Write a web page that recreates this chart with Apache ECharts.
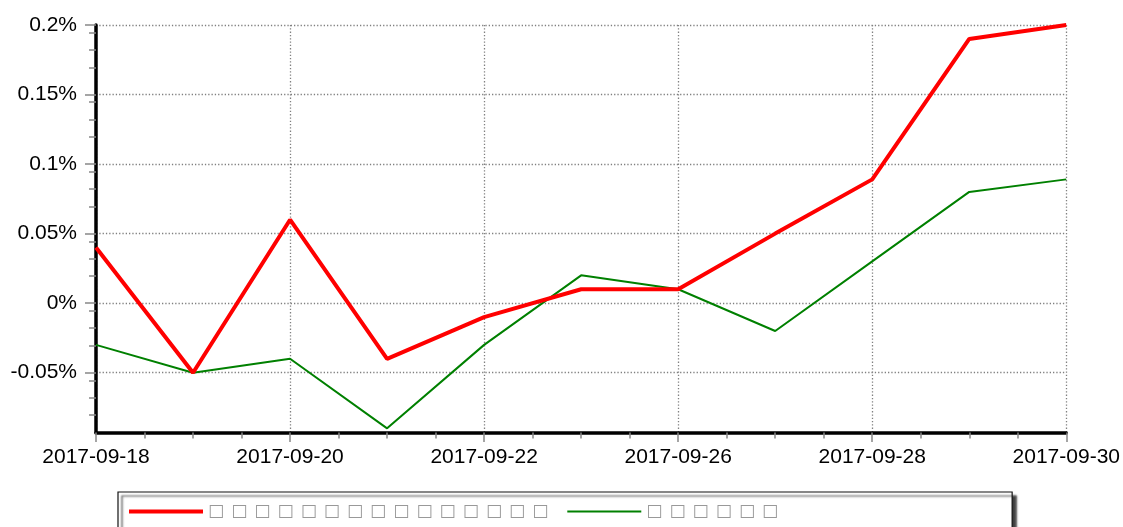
<!DOCTYPE html>
<html>
<head>
<meta charset="utf-8">
<title>chart</title>
<script src="https://cdn.jsdelivr.net/npm/echarts@6/dist/echarts.min.js"></script>
<style>
  html, body { margin: 0; padding: 0; background: #fff; }
  #chart { width: 1123px; height: 527px; }
</style>
</head>
<body>
<div id="chart"></div>
<script>
// categories (trading days)
const dates = ['2017-09-18', '2017-09-19', '2017-09-20', '2017-09-21', '2017-09-22',
  '2017-09-25', '2017-09-26', '2017-09-27', '2017-09-28', '2017-09-29', '2017-09-30']

// series values, in percent
const redValues = [0.04, -0.05, 0.06, -0.04, -0.01, 0.01, 0.01, 0.05, 0.089, 0.19, 0.2]
const greenValues = [-0.03, -0.05, -0.04, -0.09, -0.03, 0.02, 0.01, -0.02, 0.03, 0.08, 0.089]

// legend names (glyphs not rendered in the source, shown as boxes)
const redName = '□ \u200A□ \u200A□ \u200A□ \u200A□ \u200A□ \u200A□ \u200A□ \u200A□ \u200A□ \u200A□ \u200A□ \u200A□ \u200A□ \u200A□'
const greenName = '□ \u200A□ \u200A□ \u200A□ \u200A□ \u200A□'

// y tick labels
const yTicks = [-0.05, 0, 0.05, 0.1, 0.15, 0.2]

const toPairs = (vals) => vals.map((v, i) => [i, v])

const chart = echarts.init(document.getElementById('chart'))

const labelFont = {
  fontFamily: 'Liberation Sans',
  fontSize: 21,
  color: '#000'
}

// dotted grid
const gridLine = { color: '#808080', width: 1.3, type: [1.3, 2] }

chart.setOption({
  backgroundColor: '#fff',
  animation: false,
  grid: {
    left: 96,
    right: 56,
    top: 25,
    bottom: 94.5,
    containLabel: false
  },
  legend: {
    left: 118,
    top: 492,
    padding: [11, 234, 10, 11],
    itemWidth: 74,
    itemHeight: 14,
    itemGap: 19,
    backgroundColor: '#fff',
    borderColor: '#111',
    borderWidth: 1.2,
    shadowColor: 'rgba(0,0,0,0.75)',
    shadowOffsetX: 4,
    shadowOffsetY: 4,
    shadowBlur: 2,
    textStyle: {
      fontFamily: 'DejaVu Sans',
      fontSize: 17,
      color: '#999'
    },
    data: [
      { name: redName, icon: 'path://M0,0H74V4H0Z' },
      { name: greenName, icon: 'path://M0,0H74V2H0Z' }
    ]
  },
  xAxis: {
    type: 'value',
    min: 0,
    max: dates.length - 1,
    interval: 2,
    axisLine: {
      onZero: false,
      lineStyle: { color: '#000', width: 3.5 }
    },
    axisTick: {
      length: 9.5,
      lineStyle: { color: '#888', width: 1.5 }
    },
    minorTick: {
      show: true,
      splitNumber: 4,
      length: 6,
      lineStyle: { color: '#888', width: 1.5 }
    },
    axisLabel: {
      ...labelFont,
      margin: 14,
      formatter: (v) => dates[v] || ''
    },
    splitLine: {
      show: true,
      lineStyle: gridLine
    }
  },
  yAxis: {
    type: 'value',
    min: -0.093,
    max: 0.2,
    interval: 0.05,
    offset: 3,
    axisLine: {
      show: true,
      lineStyle: { color: '#000', width: 3.5 }
    },
    axisTick: {
      show: true,
      length: 11,
      customValues: yTicks,
      lineStyle: { color: '#888', width: 1.5 }
    },
    minorTick: {
      show: true,
      splitNumber: 4,
      length: 7,
      lineStyle: { color: '#888', width: 1.5 }
    },
    axisLabel: {
      ...labelFont,
      margin: 16,
      customValues: yTicks,
      formatter: (v) => parseFloat(Number(v).toFixed(4)) + '%'
    },
    splitLine: {
      show: true,
      lineStyle: gridLine
    }
  },
  series: [{
    name: redName,
    type: 'line',
    symbol: 'none',
    lineStyle: { color: '#ff0000', width: 4 },
    itemStyle: { color: '#ff0000' },
    data: toPairs(redValues),
    z: 3
  }, {
    name: greenName,
    type: 'line',
    symbol: 'none',
    lineStyle: { color: '#008000', width: 2 },
    itemStyle: { color: '#008000' },
    data: toPairs(greenValues),
    z: 2
  }]
})
</script>
</body>
</html>
